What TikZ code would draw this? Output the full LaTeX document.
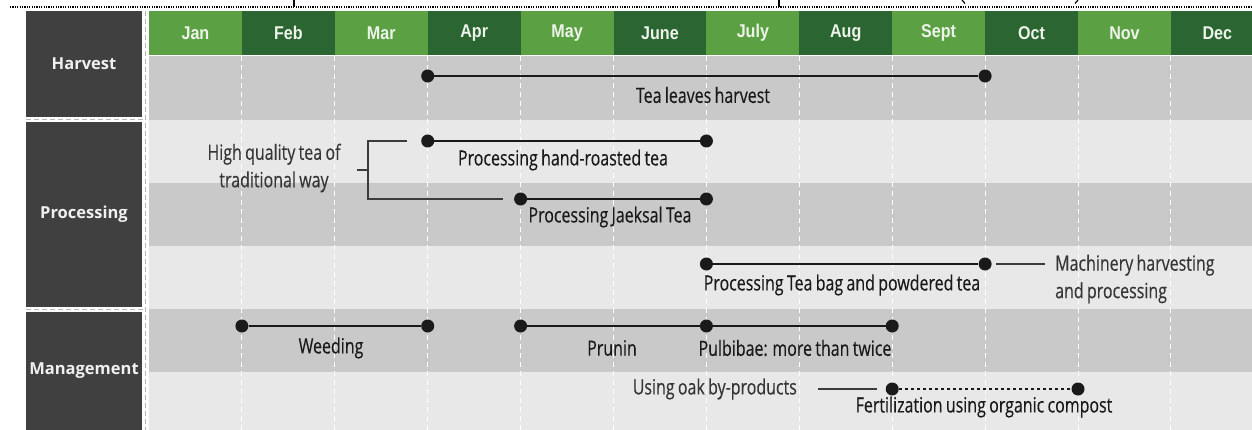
\documentclass[tikz,border=0pt]{standalone}
\usepackage{fontspec}
\setmainfont{Open Sans}
\newfontfamily\lblfont[FakeStretch=0.76,WordSpace=0.8,FakeBold=0.3]{Open Sans}
\newfontfamily\hdrfont[FakeStretch=0.87]{Liberation Sans}
\newfontfamily\sidefont{Open Sans}
\definecolor{lg}{HTML}{5BA143}
\definecolor{dg}{HTML}{2A6532}
\definecolor{boxc}{HTML}{404040}
\definecolor{rowd}{HTML}{C9C9C9}
\definecolor{rowl}{HTML}{E8E8E8}
\definecolor{ink}{HTML}{1A1A1A}
\definecolor{hdrtxt}{HTML}{EEF3EA}
\definecolor{sepc}{HTML}{B5B5B5}
\tikzset{
  monthbox/.style={fill=#1, minimum width=92.9pt, minimum height=44pt, inner sep=0,
    font=\hdrfont\bfseries\fontsize{18.5}{20}\selectfont, text=hdrtxt},
  sidebox/.style={fill=boxc, minimum width=116pt, inner sep=0,
    font=\sidefont\bfseries\fontsize{16.5}{20}\selectfont, text=white!94!black},
  vsep/.style={white, line width=1pt, dash pattern=on 5pt off 4pt},
  lsep/.style={sepc, line width=1pt, dash pattern=on 5pt off 3pt},
  dot/.style={circle, fill=ink, inner sep=0, minimum size=13pt},
  bar/.style={ink, line width=2.8pt},
  dotbar/.style={ink, line width=2pt, dash pattern=on 3pt off 3pt},
  conn/.style={ink!85, line width=1.1pt},
  lbl/.style={font=\lblfont\fontsize{21}{24}\selectfont, text=ink, inner sep=0},
  note/.style={font=\lblfont\fontsize{21}{27.5}\selectfont, text=ink!88, inner sep=0},
}
\begin{document}
\begin{tikzpicture}[x=1pt,y=-1pt]
\useasboundingbox (0,0) rectangle (1252,430);
\clip (0,0) rectangle (1252,430);
% top remnants
\draw[black, line width=1.2pt, dash pattern=on 1.2pt off 1.2pt] (10,7) -- (1252,7);
\draw[black, line width=1.6pt] (294,0) -- (294,7);
\draw[black, line width=1.6pt] (779,0) -- (779,7);
\draw[black, line width=1.2pt] (962,0) -- (965,3.5);
\draw[black, line width=1.2pt] (1078,0) -- (1075,3.5);
% rows
\fill[rowd] (149,56) rectangle (1252,120);
\fill[rowl] (149,120) rectangle (1252,183);
\fill[rowd] (149,183) rectangle (1252,246);
\fill[rowl] (149,246) rectangle (1252,309);
\fill[rowd] (149,309) rectangle (1252,372);
\fill[rowl] (149,372) rectangle (1252,430);
% months
\foreach \i/\m/\c in {0/Jan/lg,1/Feb/dg,2/Mar/lg,3/Apr/dg,4/May/lg,5/June/dg,6/July/lg,7/Aug/dg,8/Sept/lg,9/Oct/dg,10/Nov/lg,11/Dec/dg}
  \node[monthbox=\c] (m\i) at ({149+92.9*\i+46.45},33) {\m};
\foreach \i in {1,...,11}
  \draw[vsep] ({149+92.9*\i},56) -- ({149+92.9*\i},430);
% side labels
\node[sidebox, minimum height=106pt] (hv) at (84,64) {Harvest};
\node[sidebox, minimum height=185pt] (pr) at (84,214.5) {Processing};
\node[sidebox, minimum height=118pt] (mg) at (84,371) {Management};
\draw[lsep] (26,119.5) -- (145.5,119.5);
\draw[lsep] (26,309.5) -- (145.5,309.5);
\draw[lsep] (145.5,11) -- (145.5,430);
% Harvest
\node[dot] (h1) at (427.7,76) {};
\node[dot] (h2) at (985.1,76) {};
\draw[bar] (h1) -- (h2);
\node[lbl] (hl) at (703,95) {Tea leaves harvest};
% Processing
\node[dot] (p1a) at (427.7,141) {};
\node[dot] (p1b) at (706.4,141) {};
\draw[bar] (p1a) -- (p1b);
\node[lbl] (p1l) at (563,160) {Processing hand-roasted tea};
\node[dot] (p2a) at (520.6,199) {};
\node[dot] (p2b) at (706.4,199) {};
\draw[bar] (p2a) -- (p2b);
\node[lbl] (p2l) at (610,217) {Processing Jaeksal Tea};
\node[dot] (p3a) at (706.4,264) {};
\node[dot] (p3b) at (985.1,264) {};
\draw[bar] (p3a) -- (p3b);
\node[lbl] (p3l) at (842,285) {Processing Tea bag and powdered tea};
% bracket
\node[note, align=center] (hq) at (274,168) {High quality tea of\\traditional way};
\coordinate (bs) at (357,170);
\coordinate (bk) at (368,170);
\coordinate (bt) at (407,141);
\coordinate (bb) at (503,199);
\draw[conn] (bs) -- (bk);
\draw[conn] (bt) -- (bt -| bk) -- (bb -| bk) -- (bb);
% machinery
\node[note, align=left, anchor=west] (mach) at (1055,279) {Machinery harvesting\\and processing};
\draw[conn] ([xshift=11pt]p3b.center) -- ([xshift=-10pt]mach.west |- p3b);
% Management
\node[dot] (w1) at (241.9,326) {};
\node[dot] (w2) at (427.7,326) {};
\draw[bar] (w1) -- (w2);
\node[lbl] (wl) at (331,348) {Weeding};
\node[dot] (r1) at (520.6,326) {};
\node[dot] (r2) at (706.4,326) {};
\node[dot] (r3) at (892.2,326) {};
\draw[bar] (r1) -- (r2);
\draw[bar] (r2) -- (r3);
\node[lbl] (rl) at (612,348) {Prunin};
\node[lbl] (pl) at (795,348) {Pulbibae: more than twice};
\node[dot] (f1) at (892.2,389) {};
\node[dot] (f2) at (1078,389) {};
\draw[dotbar] (f1) -- (f2);
\node[lbl] (fl) at (984,407) {Fertilization using organic compost};
\node[note, anchor=east] (oak) at (797,389) {Using oak by-products};
\draw[conn] ([xshift=21pt]oak.east) -- ([xshift=-15pt]f1.center);
\end{tikzpicture}
\end{document}
